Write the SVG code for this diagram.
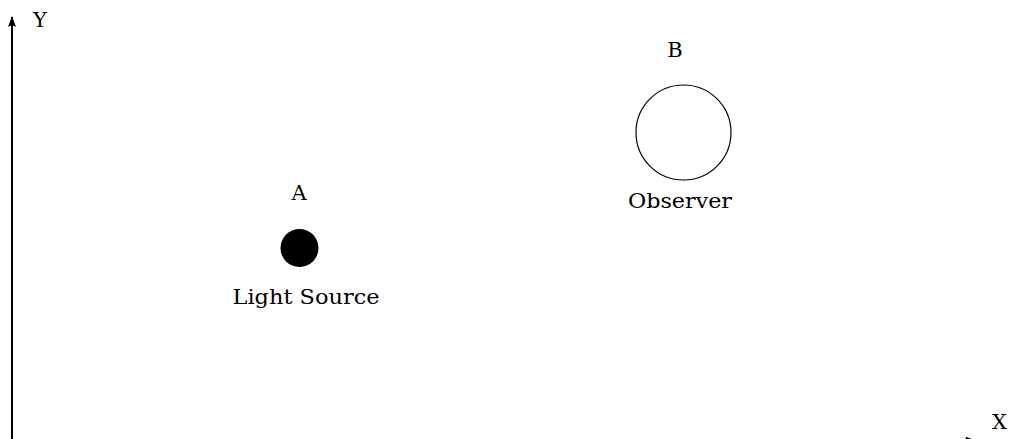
<svg xmlns="http://www.w3.org/2000/svg" width="1014" height="439" viewBox="0 0 1014 439">
<style>
text{font-family:"DejaVu Serif","Liberation Serif",serif;font-size:21px;fill:#000}
.axis{stroke:#000;stroke-width:2;fill:none}
</style>
<defs>
<marker id="ah" viewBox="0 0 11 8" refX="10" refY="4" markerWidth="11" markerHeight="8" orient="auto" markerUnits="userSpaceOnUse">
<path d="M0,0 L11,4 L0,8 L2,4 Z" fill="#000"/>
</marker>
</defs>
<rect width="1014" height="439" fill="#fff"/>
<g id="connectors">
<line class="axis" x1="12" y1="439" x2="12" y2="17" marker-end="url(#ah)"/>
<line class="axis" x1="12" y1="440.5" x2="975" y2="440.5" marker-end="url(#ah)"/>
</g>
<g id="axis-labels">
<text x="33" y="27">Y</text>
<text x="992" y="429">X</text>
</g>
<g id="light-source">
<text x="299" y="200" text-anchor="middle">A</text>
<circle cx="299.5" cy="248" r="19" fill="#000"/>
<text x="306" y="304" text-anchor="middle" textLength="147" lengthAdjust="spacingAndGlyphs">Light Source</text>
</g>
<g id="observer">
<text x="675" y="57" text-anchor="middle">B</text>
<circle cx="683.5" cy="132.5" r="47.5" fill="none" stroke="#000" stroke-width="1.2"/>
<text x="680" y="208" text-anchor="middle" textLength="104" lengthAdjust="spacingAndGlyphs">Observer</text>
</g>
</svg>
